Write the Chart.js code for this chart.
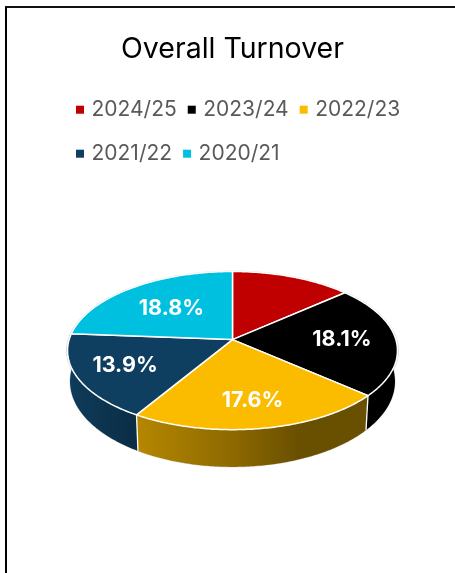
<!DOCTYPE html>
<html>
<head>
<meta charset="utf-8">
<style>
html,body{margin:0;padding:0;background:#fff;width:455px;height:573px;overflow:hidden}
#frame{position:absolute;left:5px;top:6px;right:-5px;bottom:-5px;border-left:2px solid #000;border-top:2px solid #111}
canvas{position:absolute;left:0;top:0}
</style>
<script src="https://cdn.jsdelivr.net/npm/chart.js@4"></script>
</head>
<body>
<div id="frame"></div>
<canvas id="c" width="455" height="573"></canvas>
<script>
const titleText = 'Overall Turnover';
const categories = ['2024/25', '2023/24', '2022/23', '2021/22', '2020/21'];
const turnover = [10.7, 18.1, 17.6, 13.9, 18.8];
const dataLabels = [null, '18.1%', '17.6%', '13.9%', '18.8%'];
const labelRadii = [0, 0.67, 0.717, 0.706, 0.583];
const sliceColors = ['#C00000', '#000000', '#FBBC00', '#0F3F60', '#00C0E0'];

// Excel-style 3D look: a projective tilt of the library's own arc geometry
const tilt = {k: 0.139, sy: 0.47, sx: 0.99, depth: 0.182, depthSlope: 0.08, shrink: 0.985};
const wallShades = [[0, 0.95], [0.21, 0.72], [0.5, 0.56], [0.7, 0.42], [1, 0.42]];
const legendShift = 19, markerSize = 8;

function rimPoint(arc, theta, r) {
  const R = arc.outerRadius;
  const u = r * Math.cos(theta), w = -r * Math.sin(theta);
  const d = 1 + tilt.k * w;
  return {x: arc.x + R * tilt.sx * u / d, y: arc.y - R * tilt.sy * w / d};
}
function floorPoint(arc, theta) {
  const p = rimPoint(arc, theta, 1);
  return {
    x: arc.x + (p.x - arc.x) * tilt.shrink,
    y: p.y + arc.outerRadius * tilt.depth + (p.y - arc.y) * tilt.depthSlope
  };
}
function sampled(a, b) {
  const out = [], n = Math.max(2, Math.ceil(Math.abs(b - a) / 0.012));
  for (let i = 0; i <= n; i++) out.push(a + (b - a) * i / n);
  return out;
}
function poly(ctx, pts) {
  pts.forEach((p, i) => i ? ctx.lineTo(p.x, p.y) : ctx.moveTo(p.x, p.y));
}
function shade(hex, f) {
  const n = parseInt(hex.slice(1), 16);
  return `rgb(${Math.round((n >> 16 & 255) * f)},${Math.round((n >> 8 & 255) * f)},${Math.round((n & 255) * f)})`;
}

const pie3d = {
  id: 'pie3d',
  afterLayout(chart) {
    chart.legend.left += legendShift;
    chart.legend.right += legendShift;
  },
  beforeDatasetsDraw(chart) {
    const ctx = chart.ctx, arcs = chart.getDatasetMeta(0).data, first = arcs[0];
    const visA = -0.06, visB = Math.PI + 0.08;   // front half of the rim, in canvas angles
    ctx.save();
    ctx.lineJoin = 'round';
    // thin grey silhouette
    ctx.beginPath();
    poly(ctx, sampled(0, Math.PI * 2).map(t => rimPoint(first, t, 1.006)));
    ctx.closePath();
    ctx.strokeStyle = '#d4d4d4'; ctx.lineWidth = 1; ctx.stroke();
    ctx.beginPath();
    poly(ctx, sampled(visA, visB).map(t => floorPoint(first, t)));
    ctx.stroke();
    // walls
    arcs.forEach((arc, i) => {
      const a = Math.max(arc.startAngle, visA), b = Math.min(arc.endAngle, visB);
      if (b <= a) return;
      const g = ctx.createLinearGradient(arc.x - arc.outerRadius, 0, arc.x + arc.outerRadius, 0);
      wallShades.forEach(s => g.addColorStop(s[0], shade(sliceColors[i], s[1])));
      const ts = sampled(a, b);
      ctx.beginPath();
      poly(ctx, ts.map(t => rimPoint(arc, t, 1)).concat(ts.slice().reverse().map(t => floorPoint(arc, t))));
      ctx.closePath();
      ctx.fillStyle = g; ctx.fill();
    });
    // white seams between walls
    ctx.strokeStyle = '#fff'; ctx.lineWidth = 1.3;
    arcs.forEach(arc => {
      if (arc.endAngle > visA && arc.endAngle < visB) {
        const p = rimPoint(arc, arc.endAngle, 1), q = floorPoint(arc, arc.endAngle);
        ctx.beginPath(); ctx.moveTo(p.x, p.y); ctx.lineTo(q.x, q.y); ctx.stroke();
      }
    });
    // top faces
    arcs.forEach((arc, i) => {
      const apex = rimPoint(arc, 0, 0);
      ctx.beginPath();
      ctx.moveTo(apex.x, apex.y);
      sampled(arc.startAngle, arc.endAngle).forEach(t => {
        const p = rimPoint(arc, t, 1);
        ctx.lineTo(p.x, p.y);
      });
      ctx.closePath();
      ctx.fillStyle = sliceColors[i]; ctx.fill();
      ctx.strokeStyle = '#fff'; ctx.lineWidth = 1.5; ctx.stroke();
    });
    ctx.restore();
    return false;
  },
  afterDraw(chart) {
    const ctx = chart.ctx, arcs = chart.getDatasetMeta(0).data;
    ctx.save();
    // data labels
    ctx.fillStyle = '#fff';
    ctx.font = 'bold 21.5px Inter, sans-serif';
    ctx.textAlign = 'center'; ctx.textBaseline = 'middle';
    arcs.forEach((arc, i) => {
      if (!dataLabels[i]) return;
      const p = rimPoint(arc, (arc.startAngle + arc.endAngle) / 2, labelRadii[i]);
      ctx.fillText(dataLabels[i], p.x, p.y);
    });
    // small legend markers (the tall legend box only sets the row spacing)
    chart.legend.legendHitBoxes.forEach((box, i) => {
      ctx.fillStyle = sliceColors[i];
      ctx.fillRect(box.left, box.top + (box.height - markerSize) / 2, markerSize, markerSize);
    });
    ctx.restore();
  }
};

new Chart(document.getElementById('c'), {
  type: 'pie',
  plugins: [pie3d],
  data: {
    labels: categories,
    datasets: [{data: turnover, backgroundColor: sliceColors, borderWidth: 0}]
  },
  options: {
    responsive: false,
    animation: false,
    events: [],
    radius: 165,
    layout: {padding: {left: 46, right: 36, top: 0, bottom: 74}},
    plugins: {
      tooltip: {enabled: false},
      title: {
        display: true, text: titleText, color: '#000',
        font: {family: 'Inter, sans-serif', size: 28.5, weight: 'normal', lineHeight: 1.2},
        padding: {top: 32, bottom: 16}
      },
      legend: {
        position: 'top', align: 'start',
        labels: {
          boxWidth: 5, boxHeight: 33, padding: 11, color: '#595959',
          font: {family: 'Inter, sans-serif', size: 21},
          generateLabels: chart => categories.map((text, i) => ({
            text, index: i, fillStyle: 'rgba(0,0,0,0)', strokeStyle: 'rgba(0,0,0,0)',
            lineWidth: 0, fontColor: '#595959', hidden: false
          }))
        }
      }
    }
  }
});
</script>
</body>
</html>
